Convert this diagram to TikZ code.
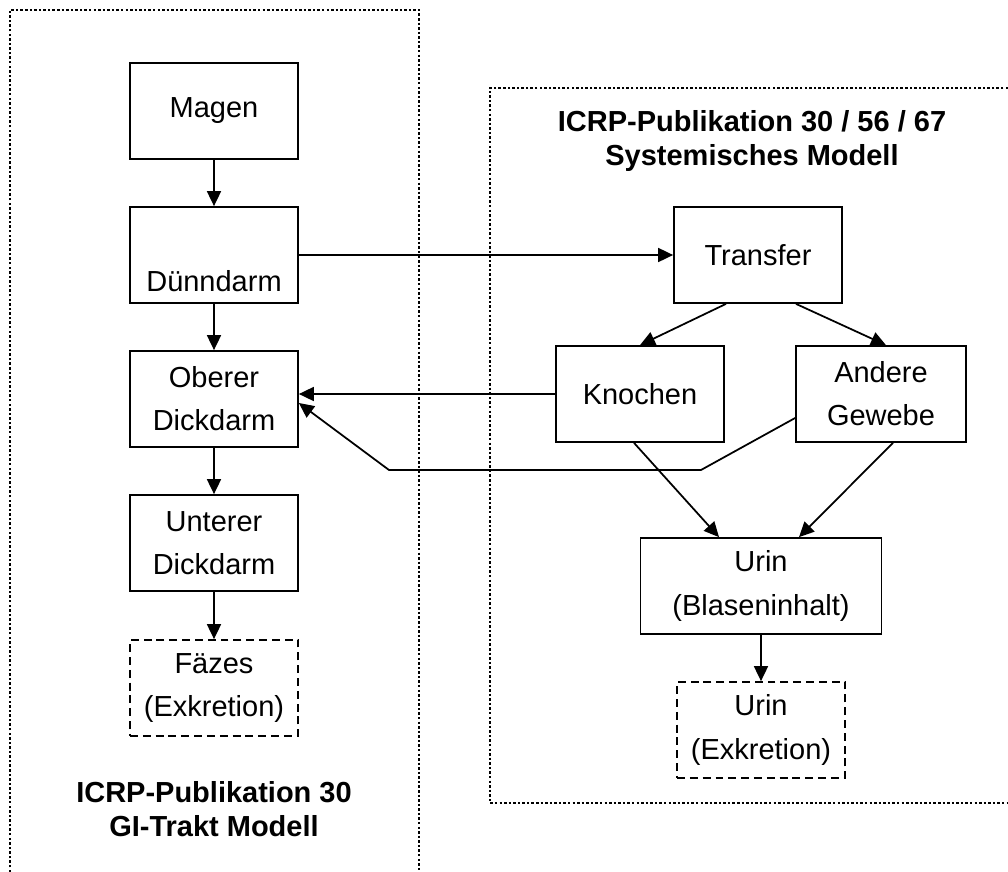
\documentclass[tikz,border=0pt]{standalone}
\usepackage{fontspec}
\setmainfont{Liberation Sans}
\usetikzlibrary{arrows.meta}

\begin{document}
\begin{tikzpicture}
		[x=0.02cm, y=-0.02cm,
		every node/.style={font=\fontsize{16.5}{24.5}\selectfont, align=center},
		kasten/.style={draw, line width=1pt, minimum width=3.36cm, minimum height=1.92cm, inner sep=0pt},
		ausgang/.style={kasten, dash pattern=on 4.5pt off 2.8pt},
		titel/.style={font=\fontsize{16.5}{19}\selectfont\bfseries},
		bereich/.style={line width=1.4pt, dash pattern=on 1.4pt off 1.2pt},
		pfeil/.style={line width=1pt, -{Triangle[length=0.3cm,width=0.28cm]}},
		]

		\useasboundingbox (0,0) rectangle (1008,872);

		% gepunktete Bereiche laufen über den Rand hinaus
		\draw[bereich] (10,872) -- (10,10) -- (419,10) -- (419,872);
		\draw[bereich] (1008,88) -- (490,88) -- (490,803) -- (1008,803);

		\node[kasten] (magen) at (214,111) {Magen};
		\node[kasten] (duenn) at (214,255) {\strut\\Dünndarm};
		\node[kasten] (oberer) at (214,399) {Oberer\\Dickdarm};
		\node[kasten] (unterer) at (214,543) {Unterer\\Dickdarm};
		\node[ausgang] (faezes) at (214,688) {Fäzes\\(Exkretion)};
		\node[titel] (gititel) at (214,809) {ICRP-Publikation 30\\GI-Trakt Modell};

		\node[titel] (systitel) at (752,141) {ICRP-Publikation 30 / 56 / 67\\Systemisches Modell};
		\node[kasten] (transfer) at (758,255) {Transfer};
		\node[kasten] (knochen) at (640,394) {Knochen};
		\node[kasten, minimum width=3.4cm] (andere) at (881,394) {Andere\\Gewebe};
		\node[kasten, minimum width=4.82cm] (blase) at (761,586) {Urin\\(Blaseninhalt)};
		\node[ausgang] (urin) at (761,730) {Urin\\(Exkretion)};

		\coordinate (knick1) at (701,470);
		\coordinate (knick2) at (389,470);

		\draw[pfeil] (magen) -- (duenn);
		\draw[pfeil] (duenn.east) -- (transfer.west);
		\draw[pfeil] (duenn) -- (oberer);
		\draw[pfeil] (oberer) -- (unterer);
		\draw[pfeil] (unterer) -- (faezes);
		\draw[pfeil] ([xshift=-0.64cm]transfer.south) -- (knochen.north);
		\draw[pfeil] ([xshift=0.76cm]transfer.south) -- ([xshift=0.1cm]andere.north);
		\draw[pfeil] (knochen.west) -- (knochen.west -| oberer.east);
		\draw[pfeil] ([yshift=-0.48cm]andere.west) -- (knick1) -- (knick2) -- ([yshift=-0.08cm]oberer.east);
		\draw[pfeil] ([xshift=-0.12cm]knochen.south) -- ([xshift=-0.84cm]blase.north);
		\draw[pfeil] ([xshift=0.24cm]andere.south) -- ([xshift=0.76cm]blase.north);
		\draw[pfeil] (blase) -- (urin);
	\end{tikzpicture}
\end{document}
